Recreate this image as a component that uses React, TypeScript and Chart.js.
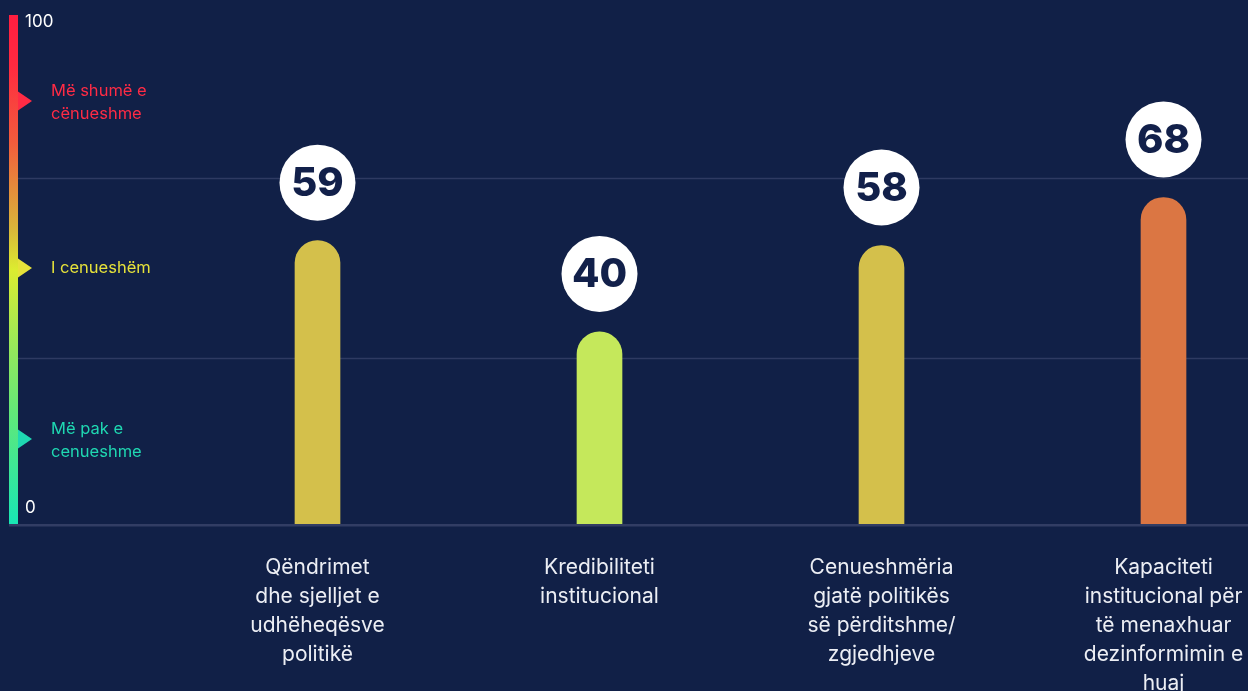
import React, { useEffect, useRef } from "react";
import { Chart, registerables } from "chart.js";

Chart.register(...registerables);

const BG = "#112047";

const categories: string[][] = [
  ["Qëndrimet", "dhe sjelljet e", "udhëheqësve", "politikë"],
  ["Kredibiliteti", "institucional"],
  ["Cenueshmëria", "gjatë politikës", "së përditshme/", "zgjedhjeve"],
  ["Kapaciteti", "institucional për", "të menaxhuar", "dezinformimin e", "huaj"],
];
const values = [59, 40, 58, 68];
const barColors = ["#d4c04b", "#c5e85b", "#d4c04b", "#db7643"];
const axisLabels = ["100", "0"];
const zoneLabels: string[][] = [["Më pak e", "cenueshme"], ["I cenueshëm"], ["Më shumë e", "cënueshme"]];
const zoneColors = ["#1fd8b2", "#e6e23a", "#ff2b45"];
const zoneMarkers = [17.7, 53.3, 88.1];
const zoneBounds = [34.5, 72];

const decor = {
  id: "decor",
  beforeDatasetsDraw(chart: any) {
    const { ctx, chartArea, scales } = chart;
    const ys = scales.y;
    const top = chartArea.top;
    const bottom = chartArea.bottom;
    ctx.save();
    // grid lines at zone bounds
    ctx.strokeStyle = "#2e3a62";
    ctx.lineWidth = 1.5;
    zoneBounds.forEach((v) => {
      const py = Math.round(ys.getPixelForValue(v)) + 0.5;
      ctx.beginPath();
      ctx.moveTo(18, py);
      ctx.lineTo(chart.width, py);
      ctx.stroke();
    });
    // baseline
    ctx.lineWidth = 2.5;
    ctx.strokeStyle = "#323d64";
    ctx.beginPath();
    ctx.moveTo(9, bottom + 1.2);
    ctx.lineTo(chart.width, bottom + 1.2);
    ctx.stroke();
    // gradient bar
    const g = ctx.createLinearGradient(0, top, 0, bottom);
    g.addColorStop(0, "#ff1e40");
    g.addColorStop(0.1, "#ff2a40");
    g.addColorStop(0.25, "#f25c3c");
    g.addColorStop(0.42, "#d9b63a");
    g.addColorStop(0.5, "#dcec30");
    g.addColorStop(0.65, "#98e85a");
    g.addColorStop(0.78, "#62e878");
    g.addColorStop(1, "#18e6b4");
    ctx.fillStyle = g;
    ctx.fillRect(9, top, 9, bottom - top);
    // axis end labels
    ctx.fillStyle = "#ffffff";
    ctx.font = "17px Inter";
    ctx.textAlign = "left";
    ctx.textBaseline = "middle";
    ctx.fillText(axisLabels[0], 25, top + 7);
    ctx.fillText(axisLabels[1], 25, bottom - 16);
    // zone markers and labels
    zoneMarkers.forEach((v, i) => {
      const py = ys.getPixelForValue(v);
      ctx.fillStyle = zoneColors[i];
      ctx.beginPath();
      ctx.moveTo(18, py - 9.5);
      ctx.lineTo(32, py);
      ctx.lineTo(18, py + 9.5);
      ctx.closePath();
      ctx.fill();
      ctx.font = "16.5px Inter";
      const lines = zoneLabels[i];
      const shift = lines.length > 1 ? 1.5 : 0;
      lines.forEach((t, j) => {
        ctx.fillText(t, 51, py + shift + (j - (lines.length - 1) / 2) * 22.5);
      });
    });
    ctx.restore();
  },
  afterDatasetsDraw(chart: any) {
    const { ctx } = chart;
    const meta = chart.getDatasetMeta(0);
    ctx.save();
    meta.data.forEach((bar: any, i: number) => {
      const cx = bar.x;
      const cy = bar.y - 58;
      ctx.fillStyle = "#ffffff";
      ctx.beginPath();
      ctx.arc(cx, cy, 38, 0, Math.PI * 2);
      ctx.fill();
      ctx.fillStyle = "#12204a";
      ctx.font = "800 40px Inter";
      ctx.textAlign = "center";
      ctx.textBaseline = "middle";
      ctx.fillText(String(values[i]), cx, cy + 1);
    });
    ctx.restore();
  },
};

export default function App() {
  const ref = useRef<HTMLCanvasElement>(null);
  useEffect(() => {
    const chart = new Chart(ref.current as HTMLCanvasElement, {
      type: "bar",
      data: {
        labels: categories,
        datasets: [
          {
            data: values,
            backgroundColor: barColors,
            borderRadius: 23,
            borderSkipped: "start",
            barThickness: 45,
          },
        ],
      },
      options: {
        animation: false,
        responsive: false,
        layout: { padding: { left: 176.5, right: 5.5, top: 15, bottom: 0 } },
        plugins: { legend: { display: false }, tooltip: { enabled: false } },
        scales: {
          x: {
            grid: { display: false, drawTicks: false },
            border: { display: false },
            ticks: {
              color: "#eceef4",
              font: { family: "Inter", size: 21, lineHeight: 29 / 21 },
              padding: 29.5,
              maxRotation: 0,
              autoSkip: false,
            },
          },
          y: { display: false, min: 0, max: 106 },
        },
      },
      plugins: [decor],
    } as any);
    return () => chart.destroy();
  }, []);
  return (
    <div style={{ width: 1248, height: 691, overflow: "hidden", background: BG }}>
      <style>{`body{margin:0;background:${BG};}`}</style>
      <canvas ref={ref} width={1310} height={728} style={{ display: "block" }} />
    </div>
  );
}
